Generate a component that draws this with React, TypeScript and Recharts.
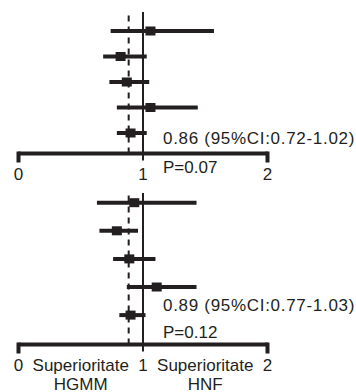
import { ScatterChart, Scatter, ErrorBar, XAxis, YAxis, ReferenceLine } from "recharts";

const INK = "#231f20";
const FONT = "'Liberation Sans', Arial, sans-serif";

// rows from top to bottom
const ROWS = [1, 2, 3, 4, 5];

// upper panel
const TOP_OR = [1.06, 0.82, 0.87, 1.06, 0.9];
const TOP_LO = [0.74, 0.68, 0.73, 0.79, 0.79];
const TOP_HI = [1.57, 1.03, 1.05, 1.44, 1.03];
const TOP_TEXT = ["0.86 (95%CI:0.72-1.02)", "P=0.07"];
const TOP_TICKS = [0, 1, 2];

// lower panel
const BOTTOM_OR = [0.93, 0.79, 0.89, 1.11, 0.9];
const BOTTOM_LO = [0.63, 0.65, 0.76, 0.87, 0.81];
const BOTTOM_HI = [1.43, 0.96, 1.1, 1.43, 1.02];
const BOTTOM_TEXT = ["0.89 (95%CI:0.77-1.03)", "P=0.12"];
const BOTTOM_TICKS = [0, 0.5, 1, 1.5, 2];

const TICK_LABELS: Record<string, string[]> = {
  "0": ["0"],
  "0.5": ["Superioritate", "HGMM"],
  "1": ["1"],
  "1.5": ["Superioritate", "HNF"],
  "2": ["2"],
};

const POOLED_LINE = 0.885;

const build = (or: number[], lo: number[], hi: number[]) =>
  ROWS.map((row, i) => ({ row, or: or[i], err: [or[i] - lo[i], hi[i] - or[i]] }));

const topData = build(TOP_OR, TOP_LO, TOP_HI);
const bottomData = build(BOTTOM_OR, BOTTOM_LO, BOTTOM_HI);

const Square = (props: any) => {
  const { cx, cy } = props;
  return <rect x={cx - 5} y={cy - 4.5} width={10} height={9} fill={INK} />;
};

const AxisTick = (props: any) => {
  const { x, y, payload } = props;
  const v = payload.value;
  const axisY = y - 8;
  const lines = TICK_LABELS[String(v)] || [String(v)];
  return (
    <g>
      {(v === 0 || v === 2) && <rect x={x - 2} y={axisY - 2} width={4} height={11} fill={INK} />}
      {v === 1 && <line x1={x} x2={x} y1={axisY} y2={axisY + 7} stroke={INK} strokeWidth={2} />}
      {lines.map((t, i) => (
        <text
          key={i}
          x={x}
          y={axisY + 26 + i * 19}
          textAnchor="middle"
          fontFamily={FONT}
          fontSize={17}
          fill={INK}
        >
          {t}
        </text>
      ))}
    </g>
  );
};

function Panel({ data, ticks, text, height, top, xAxisHeight, bottom, yDomain, textY }: any) {
  return (
    <ScatterChart
      width={356}
      height={height}
      margin={{ top, right: 88.5, bottom, left: 18.5 }}
    >
      <XAxis
        type="number"
        dataKey="or"
        domain={[0, 2]}
        ticks={ticks}
        interval={0}
        height={xAxisHeight}
        axisLine={{ stroke: INK, strokeWidth: 4 }}
        tickLine={false}
        tick={<AxisTick />}
      />
      <YAxis type="number" dataKey="row" domain={yDomain} reversed hide allowDataOverflow />
      <ReferenceLine x={POOLED_LINE} stroke={INK} strokeWidth={2} strokeDasharray="6 5" />
      <ReferenceLine x={1} stroke={INK} strokeWidth={2} />
      <Scatter data={data} fill={INK} shape={<Square />} isAnimationActive={false}>
        <ErrorBar dataKey="err" direction="x" width={0} stroke={INK} strokeWidth={4} />
      </Scatter>
      <text x={163} y={textY[0]} fontFamily={FONT} fontSize={17} fill={INK} letterSpacing={0.7}>
        {text[0]}
      </text>
      <text x={163} y={textY[1]} fontFamily={FONT} fontSize={17} fill={INK}>
        {text[1]}
      </text>
    </ScatterChart>
  );
}

export default function App() {
  return (
    <div style={{ position: "absolute", left: 0, top: 0, width: 356, height: 392, background: "#fff" }}>
      <div style={{ position: "absolute", left: 0, top: 0 }}>
        <Panel
          data={topData}
          ticks={TOP_TICKS}
          text={TOP_TEXT}
          height={190}
          top={12}
          xAxisHeight={30}
          bottom={6.5}
          yDomain={[0.255, 5.804]}
          textY={[144, 172.7]}
        />
      </div>
      <div style={{ position: "absolute", left: 0, top: 190 }}>
        <Panel
          data={bottomData}
          ticks={BOTTOM_TICKS}
          text={BOTTOM_TEXT}
          height={202}
          top={3}
          xAxisHeight={40}
          bottom={7.5}
          yDomain={[0.655, 6.046]}
          textY={[120.7, 148.3]}
        />
      </div>
    </div>
  );
}
